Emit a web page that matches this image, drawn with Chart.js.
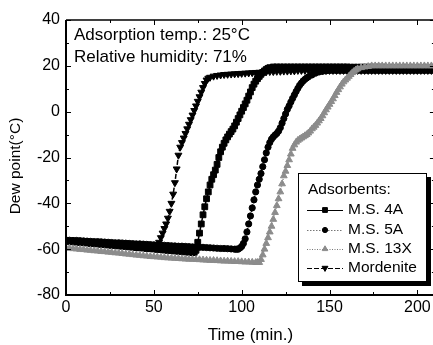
<!DOCTYPE html>
<html lang="en">
<head>
    <meta charset="UTF-8">
    <title>Dew point breakthrough</title>
    <script src="https://cdn.jsdelivr.net/npm/chart.js"></script>
    <style>
        html, body {
            margin: 0;
            padding: 0;
            background: #fff;
            overflow: hidden;
        }

        canvas {
            display: block;
        }
    </style>
</head>
<body>
    <canvas id="dewChart" width="440" height="345"></canvas>

    <script>
        // values (time in min, dew point in deg C)
        const seriesNames = ['M.S. 4A', 'M.S. 5A', 'M.S. 13X', 'Mordenite'];
        const xTicks = [0, 50, 100, 150, 200];
        const yTicks = [-80, -60, -40, -20, 0, 20, 40];

        const ms4aTime = [0,2,4,6,8,10,12,14,16,18,20,22,24,26,28,30,32,34,36,38,40,42,44,46,48,50,52,54,56,58,60,62,64,66,68,70,72,
            73,74,75,76,77,78,79,80,81,82,83,84,85,86,87,88,89,90,91,92,93,94,95,96,97,98,99,100,101,102,103,104,105,106,107,108,109,110,111,112,113,114,115,116,
            118,120,122,124,126,128,130,132,134,136,138,140,142,144,146,148,150,152,154,156,158,160,162,164,166,168,170,172,174,176,178,180,182,184,186,188,190,192,194,196,198,200,202,204,206,208,210];
        const ms4aDew = [-56.5,-56.6,-56.8,-56.9,-57.1,-57.2,-57.3,-57.5,-57.6,-57.7,-57.9,-58.0,-58.2,-58.3,-58.4,-58.6,-58.7,-58.8,-59.0,-59.1,-59.3,-59.4,-59.5,-59.7,-59.8,-59.9,-60.1,-60.2,-60.4,-60.5,-60.6,-60.8,-60.9,-61.0,-61.2,-61.3,-61.5,
            -61.4,-60.5,-57,-53,-49,-45,-41.5,-38,-35,-32,-29.5,-27.5,-25.5,-23,-20,-17.5,-15.5,-13.8,-12.3,-11,-9.8,-8.7,-7.6,-6.2,-4.6,-3,-1.4,0.2,1.8,3.4,5,6.8,8.6,10.5,12,13.3,14.4,15.4,16.3,17.1,17.8,18.4,18.9,19.2,
            19.5,19.5,19.5,19.5,19.5,19.5,19.5,19.5,19.5,19.5,19.5,19.5,19.5,19.5,19.5,19.5,19.5,19.5,19.5,19.5,19.5,19.5,19.4,19.4,19.4,19.4,19.4,19.4,19.4,19.4,19.4,19.4,19.3,19.3,19.3,19.3,19.3,19.3,19.3,19.3,19.3,19.3,19.3,19.3,19.3,19.3,19.3];

        const ms5aTime = [0,2,4,6,8,10,12,14,16,18,20,22,24,26,28,30,32,34,36,38,40,42,44,46,48,50,52,54,56,58,60,62,64,66,68,70,72,74,76,78,80,82,84,86,88,90,92,94,96,
            97,98,99,100,101,102,103,104,105,106,107,108,109,110,111,112,113,114,115,116,117,118,119,120,121,122,123,124,125,126,127,128,129,130,131,132,133,134,135,136,137,138,
            140,142,144,146,148,150,152,154,156,158,160,162,164,166,168,170,172,174,176,178,180,182,184,186,188,190,192,194,196,198,200,202,204,206,208,210];
        const ms5aDew = [-56.0,-56.1,-56.2,-56.2,-56.3,-56.4,-56.5,-56.6,-56.7,-56.7,-56.8,-56.9,-57.0,-57.1,-57.2,-57.2,-57.3,-57.4,-57.5,-57.6,-57.7,-57.7,-57.8,-57.9,-58.0,-58.1,-58.2,-58.2,-58.3,-58.4,-58.5,-58.6,-58.7,-58.7,-58.8,-58.9,-59.0,-59.1,-59.2,-59.2,-59.3,-59.4,-59.5,-59.6,-59.7,-59.7,-59.8,-59.9,-60.0,
            -60.0,-60.0,-59.5,-58.8,-57.5,-55.5,-52.5,-49,-45.5,-42,-38.5,-35,-32,-29.5,-27,-24,-21,-18,-15.5,-13.5,-12,-11,-10.2,-9.5,-8.5,-7,-5,-3,-1,1,2.5,4.2,5.8,7.3,8.8,10.2,11.5,12.5,13.4,14.1,14.7,15.2,
            16,16.8,17.3,17.6,17.8,18,18,18,18,18,18,18,18,18,18,18,18,18,18,18,18,18,18,18,18,18,18,18,18,18,18,18,18,18,18,18];

        const ms13xTime = [0,2,4,6,8,10,12,14,16,18,20,22,24,26,28,30,32,34,36,38,40,42,44,46,48,50,52,54,56,58,60,62,64,66,68,70,72,74,76,78,80,82,84,86,88,90,92,94,96,98,100,102,104,106,108,
            109,110,111,112,113,114,115,116,117,118,119,120,121,122,123,124,125,126,127,128,129,130,131,132,133,134,135,136,137,138,139,140,141,142,143,144,145,146,147,148,149,150,151,152,153,154,155,156,157,158,159,160,161,162,163,164,165,166,
            168,170,172,174,176,178,180,182,184,186,188,190,192,194,196,198,200,202,204,206,208,210];
        const ms13xDew = [-59.5,-59.6,-59.8,-59.9,-60.1,-60.2,-60.4,-60.5,-60.7,-60.8,-61.0,-61.1,-61.3,-61.4,-61.6,-61.7,-61.9,-62.1,-62.2,-62.4,-62.6,-62.7,-62.9,-63.0,-63.2,-63.3,-63.4,-63.5,-63.7,-63.8,-63.9,-64.0,-64.1,-64.2,-64.3,-64.4,-64.4,-64.5,-64.6,-64.7,-64.8,-64.9,-64.9,-65.0,-65.1,-65.2,-65.2,-65.3,-65.4,-65.4,-65.5,-65.6,-65.6,-65.7,-65.8,
            -65.8,-65.8,-64.5,-62.5,-60,-57.5,-55,-52.5,-50,-47,-44,-41,-38,-35,-31.5,-28,-26,-23.5,-21,-18.5,-16,-14.5,-13.3,-12.5,-12,-11.5,-11,-10.5,-10,-9.3,-8.5,-7.5,-6.8,-6,-5,-4,-3,-1.8,-0.5,0.8,2,3.2,4.4,5.6,7,8.4,9.6,10.8,12,13,13.8,14.6,15.4,16.2,17,17.6,18.2,18.7,
            19.2,19.5,19.7,20,20,20,20,20,20,20,20,20,20,20,20,20,20,20,20,20,20,20,20];

        const mordeniteTime = [0,2,4,6,8,10,12,14,16,18,20,22,24,26,28,30,32,34,36,38,40,42,44,46,48,50,52,
            53,54,55,56,57,58,59,60,61,62,63,64,65,66,67,68,69,70,71,72,73,74,75,76,77,78,79,80,81,82,
            84,86,88,90,92,94,96,98,100,102,104,106,108,110,112,114,116,118,120,122,124,126,128,130,132,134,136,138,140,142,144,146,148,150,152,154,156,158,160,162,164,166,168,170,172,174,176,178,180,182,184,186,188,190,192,194,196,198,200,202,204,206,208,210];
        const mordeniteDew = [-56.0,-56.1,-56.2,-56.3,-56.4,-56.5,-56.5,-56.6,-56.7,-56.8,-56.9,-57.0,-57.0,-57.1,-57.2,-57.3,-57.4,-57.5,-57.5,-57.6,-57.7,-57.8,-57.9,-58.0,-58.1,-58.2,-58.4,
            -57,-55,-53,-51,-49,-46.5,-43.5,-40,-36,-31,-25,-19,-15.5,-13.5,-11.5,-9.5,-7.5,-5.5,-3.5,-1.5,0.5,2.5,4.5,6.5,8.5,10.5,12.3,13.8,14.6,15.0,
            15.5,15.8,16.0,16.2,16.3,16.4,16.5,16.6,16.7,16.8,16.9,17.0,17.1,17.2,17.3,17.4,17.5,17.5,17.6,17.6,17.7,17.7,17.8,17.8,
            18,18,18,18,18,18,18,18,18,18,18,18,18,18,18,18,18,18,18,18,18,18,18,18,18,18,18,18,18,18,18,18,18,18,18,18,18,18,18,18];

        const FONT = '"Liberation Sans", Arial, Helvetica, sans-serif';
        const GREY = '#8c8c8c';

        function toPoints(times, values) {
            return times.map((t, i) => ({ x: t, y: values[i] }));
        }

        const styles = [
            { style: 'rect', rotation: 0, radius: 4.1, legendRadius: 3.4, color: '#000', dash: [] },
            { style: 'circle', rotation: 0, radius: 3.1, legendRadius: 2.6, color: '#000', dash: [1.5, 1.5] },
            { style: 'triangle', rotation: 0, radius: 3.9, legendRadius: 3.2, color: GREY, dash: [1, 1.5] },
            { style: 'triangle', rotation: 180, radius: 4.0, legendRadius: 3.4, color: '#000', dash: [5, 2] }
        ];

        const seriesData = [
            toPoints(ms4aTime, ms4aDew),
            toPoints(ms5aTime, ms5aDew),
            toPoints(ms13xTime, ms13xDew),
            toPoints(mordeniteTime, mordeniteDew)
        ];

        // inward ticks, frame, text box and framed legend
        const framePlugin = {
            id: 'frame',
            afterDraw(chart) {
                const ctx = chart.ctx;
                const a = chart.chartArea;
                const xs = chart.scales.x;
                const ys = chart.scales.y;
                ctx.save();
                ctx.strokeStyle = '#000';

                ctx.lineWidth = 2;
                ctx.beginPath();
                ctx.moveTo(a.left, a.top);
                ctx.lineTo(a.left, a.bottom);
                ctx.lineTo(a.right, a.bottom);
                ctx.stroke();
                ctx.lineWidth = 1.5;
                ctx.beginPath();
                ctx.moveTo(a.left, a.top);
                ctx.lineTo(a.right, a.top);
                ctx.lineTo(a.right, a.bottom);
                ctx.stroke();

                ctx.lineWidth = 1;
                for (let v = 0; v <= 210; v += 25) {
                    const px = Math.round(xs.getPixelForValue(v)) + 0.5;
                    const len = v % 50 === 0 ? 5 : 3;
                    ctx.beginPath();
                    ctx.moveTo(px, a.bottom);
                    ctx.lineTo(px, a.bottom - len);
                    ctx.moveTo(px, a.top);
                    ctx.lineTo(px, a.top + len);
                    ctx.stroke();
                }
                for (let v = -80; v <= 40; v += 10) {
                    const py = Math.round(ys.getPixelForValue(v)) + 0.5;
                    const len = v % 20 === 0 ? 5 : 3;
                    ctx.beginPath();
                    ctx.moveTo(a.left, py);
                    ctx.lineTo(a.left + len, py);
                    ctx.moveTo(a.right, py);
                    ctx.lineTo(a.right - len, py);
                    ctx.stroke();
                }

                // conditions text
                ctx.fillStyle = '#000';
                ctx.font = '17px ' + FONT;
                ctx.textAlign = 'left';
                ctx.textBaseline = 'alphabetic';
                ctx.fillText('Adsorption temp.: 25°C', a.left + 8, a.top + 19.5);
                ctx.fillText('Relative humidity: 71%', a.left + 8, a.top + 42);

                // y axis title
                ctx.save();
                ctx.translate(16, 166);
                ctx.rotate(-Math.PI / 2);
                ctx.textAlign = 'center';
                ctx.textBaseline = 'middle';
                ctx.font = '15.5px ' + FONT;
                ctx.fillText('Dew point(°C)', 0, 0);
                ctx.restore();

                // legend box with shadow
                const bx = 298, by = 173, bw = 129, bh = 109;
                ctx.fillStyle = '#000';
                ctx.fillRect(bx + 4, by + 4, bw, bh);
                ctx.fillStyle = '#fff';
                ctx.fillRect(bx, by, bw, bh);
                ctx.lineWidth = 1;
                ctx.strokeRect(bx + 0.5, by + 0.5, bw - 1, bh - 1);

                ctx.fillStyle = '#000';
                ctx.font = '15.5px ' + FONT;
                ctx.textBaseline = 'middle';
                ctx.fillText('Adsorbents:', bx + 10, by + 17);
                const rows = [by + 37, by + 57, by + 76, by + 95];
                seriesNames.forEach((name, i) => {
                    const st = styles[i];
                    const y = rows[i];
                    ctx.strokeStyle = i === 0 || i === 3 ? '#000' : '#777';
                    ctx.lineWidth = 1;
                    ctx.setLineDash(st.dash);
                    ctx.beginPath();
                    ctx.moveTo(bx + 9, y + 0.5);
                    ctx.lineTo(bx + 45, y + 0.5);
                    ctx.stroke();
                    ctx.setLineDash([]);
                    ctx.fillStyle = st.color;
                    ctx.strokeStyle = st.color;
                    Chart.helpers.drawPoint(ctx, {
                        pointStyle: st.style,
                        rotation: st.rotation,
                        radius: st.legendRadius,
                        borderWidth: 1
                    }, bx + 27, y);
                    ctx.fillStyle = '#000';
                    ctx.fillText(name, bx + 50, y);
                });
                ctx.restore();
            }
        };

        const ctx = document.getElementById('dewChart').getContext('2d');
        const dewChart = new Chart(ctx, {
            type: 'scatter',
            data: {
                datasets: seriesNames.map((name, i) => ({
                    label: name,
                    data: seriesData[i],
                    showLine: true,
                    borderColor: styles[i].color,
                    backgroundColor: styles[i].color,
                    borderWidth: 1.5,
                    borderDash: styles[i].dash,
                    pointStyle: styles[i].style,
                    pointRotation: styles[i].rotation,
                    pointRadius: styles[i].radius,
                    pointBorderWidth: 1,
                    order: i === 2 ? 0 : 1
                }))
            },
            options: {
                responsive: false,
                animation: false,
                events: [],
                layout: { padding: { top: 20, right: 4.4, left: 0, bottom: 0 } },
                plugins: {
                    legend: { display: false },
                    tooltip: { enabled: false }
                },
                scales: {
                    x: {
                        type: 'linear',
                        min: 0,
                        max: 210,
                        afterFit: s => { s.height = 50; },
                        afterBuildTicks: s => { s.ticks = xTicks.map(v => ({ value: v })); },
                        ticks: {
                            includeBounds: false,
                            maxRotation: 0,
                            padding: 3,
                            color: '#000',
                            font: { family: FONT, size: 16 }
                        },
                        grid: { display: false, drawTicks: false },
                        border: { display: false },
                        title: {
                            display: true,
                            text: 'Time (min.)',
                            color: '#000',
                            font: { family: FONT, size: 17 },
                            padding: { top: 0, bottom: -1 }
                        }
                    },
                    y: {
                        min: -80,
                        max: 40,
                        afterFit: s => { s.width = 66; },
                        afterBuildTicks: s => { s.ticks = yTicks.map(v => ({ value: v })); },
                        ticks: {
                            padding: 6,
                            color: '#000',
                            font: { family: FONT, size: 16 }
                        },
                        grid: { display: false, drawTicks: false },
                        border: { display: false }
                    }
                }
            },
            plugins: [framePlugin]
        });
    </script>
</body>
</html>
